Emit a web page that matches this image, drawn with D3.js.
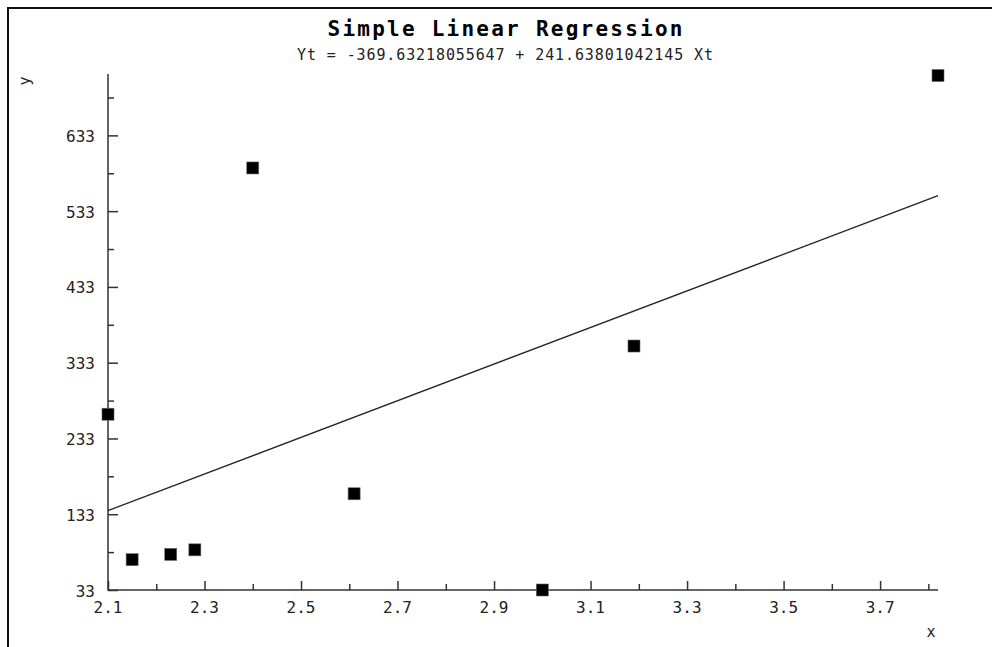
<!DOCTYPE html>
<html>
<head>
<meta charset="utf-8">
<script src="https://cdn.jsdelivr.net/npm/d3@7"></script>
<style>
	body { margin: 0; background: #fff; }
	text { font-family: "DejaVu Sans Mono", monospace; fill: #222; }
</style>
</head>
<body>
<div id="chart"></div>
<script>
"use strict";

const width = 992, height = 647;

//  Data
const xValues = [2.10, 2.15, 2.23, 2.28, 2.40, 2.61, 3.00, 3.19, 3.82];
const yValues = [265, 73, 80, 86, 590, 160, 33, 355, 712];
const intercept = -369.63218055647, slope = 241.63801042145;
const yTicksMajor = [33, 133, 233, 333, 433, 533, 633];
const yTicksMinor = [83, 183, 283, 383, 483, 583, 683];
const xTicksMajor = [2.1, 2.3, 2.5, 2.7, 2.9, 3.1, 3.3, 3.5, 3.7];
const xTicksMinor = [2.2, 2.4, 2.6, 2.8, 3.0, 3.2, 3.4, 3.6, 3.8];
const title = 'Simple Linear Regression';
const subtitle = 'Yt = -369.63218055647 + 241.63801042145 Xt';

const plot = { left: 108, right: 938, top: 74, bottom: 590 };

let svg = d3.select('#chart').append('svg')
	.attr('width', width)
	.attr('height', height);

svg.append('rect').attr('width', width).attr('height', height).attr('fill', '#fff');

//  Frame (top and left edges only are visible)
svg.append('path')
	.attr('d', `M 8 ${height} L 8 8 L ${width} 8`)
	.attr('fill', 'none')
	.attr('stroke', '#111')
	.attr('stroke-width', 2);

let x = d3.scaleLinear().domain([2.1, 3.82]).range([plot.left, plot.right]);
let y = d3.scaleLinear().domain([33, 714]).range([plot.bottom, plot.top]);

//  Titles
svg.append('text')
	.attr('x', 505).attr('y', 35.5)
	.attr('text-anchor', 'middle')
	.attr('font-size', 21)
	.attr('font-weight', 'bold')
	.attr('textLength', 355)
	.attr('lengthAdjust', 'spacing')
	.style('fill', '#000')
	.text(title);

svg.append('text')
	.attr('x', 505).attr('y', 60)
	.attr('text-anchor', 'middle')
	.attr('font-size', 15)
	.attr('textLength', 416)
	.attr('lengthAdjust', 'spacing')
	.text(subtitle);

//  Axes
let axisColor = '#333';

let xAxisMinor = d3.axisTop(x).tickValues(xTicksMinor).tickSize(6).tickFormat('');
let xAxisMajor = d3.axisTop(x).tickValues(xTicksMajor).tickSize(9).tickFormat('');
let yAxisMinor = d3.axisRight(y).tickValues(yTicksMinor).tickSize(6).tickFormat('');
let yAxisMajor = d3.axisRight(y).tickValues(yTicksMajor).tickSize(10).tickFormat('');

[xAxisMinor, xAxisMajor].forEach(axis =>
	svg.append('g')
		.attr('transform', `translate(0, ${plot.bottom})`)
		.call(axis)
		.call(g => g.select('.domain').remove())
		.call(g => g.selectAll('line').attr('stroke', axisColor).attr('stroke-width', 1.5)));

[yAxisMinor, yAxisMajor].forEach(axis =>
	svg.append('g')
		.attr('transform', `translate(${plot.left}, 0)`)
		.call(axis)
		.call(g => g.select('.domain').remove())
		.call(g => g.selectAll('line').attr('stroke', axisColor).attr('stroke-width', 1.5)));

svg.append('path')
	.attr('d', `M ${plot.left} ${plot.top} L ${plot.left} ${plot.bottom} L ${plot.right} ${plot.bottom}`)
	.attr('fill', 'none')
	.attr('stroke', axisColor)
	.attr('stroke-width', 1.5);

//  Tick labels
svg.append('g').selectAll('text')
	.data(xTicksMajor)
	.join('text')
		.attr('x', d => x(d))
		.attr('y', 613)
		.attr('text-anchor', 'middle')
		.attr('font-size', 16)
		.text(d => d.toFixed(1));

svg.append('g').selectAll('text')
	.data(yTicksMajor)
	.join('text')
		.attr('x', 95)
		.attr('y', d => y(d) + 6.5)
		.attr('text-anchor', 'end')
		.attr('font-size', 16)
		.text(d => d);

//  Axis names
svg.append('text')
	.attr('transform', 'translate(30, 81) rotate(-90)')
	.attr('text-anchor', 'middle')
	.attr('font-size', 15)
	.text('y');

svg.append('text')
	.attr('x', 931).attr('y', 637)
	.attr('text-anchor', 'middle')
	.attr('font-size', 15)
	.text('x');

//  Regression line
let xExtent = d3.extent(xValues);
svg.append('line')
	.attr('x1', x(xExtent[0]))
	.attr('y1', y(intercept + slope * xExtent[0]))
	.attr('x2', x(xExtent[1]))
	.attr('y2', y(intercept + slope * xExtent[1]))
	.attr('stroke', '#222')
	.attr('stroke-width', 1.3);

//  Points
const markerSize = 12;
svg.append('g').selectAll('rect')
	.data(xValues.map((xv, i) => ({ x: xv, y: yValues[i] })))
	.join('rect')
		.attr('x', d => x(d.x) - markerSize / 2)
		.attr('y', d => y(d.y) - markerSize / 2)
		.attr('width', markerSize)
		.attr('height', markerSize)
		.attr('fill', '#000')
		.attr('stroke', '#666')
		.attr('stroke-width', 0.6);
</script>
</body>
</html>
